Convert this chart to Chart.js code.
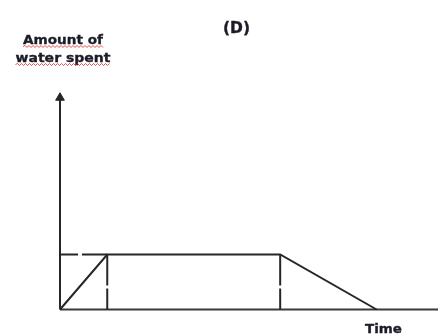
<!DOCTYPE html>
<html>
<head>
<meta charset="utf-8">
<script src="https://cdn.jsdelivr.net/npm/chart.js@4"></script>
<style>
html,body{margin:0;padding:0;background:#fff;}
canvas{display:block;}
</style>
</head>
<body>
<canvas id="c" width="438" height="336"></canvas>
<script>
// ---- data ----
const timePoints   = [0, 1, 4.66, 6.7];   // time values of the graph's corners
const waterValues  = [0, 1, 1, 0];        // amount of water spent at those times
const plateauLevel = 1;
const xMax = 8, yMax = 4, arrowTip = 3.85;
const titleText = "(D)";
const yLabelLines = ["Amount of", "water spent"];
const xLabelText = "Time";

const INK = '#262626';

const mainLine = timePoints.map((t, i) => ({x: t, y: waterValues[i]}));

const bgPlugin = {
  id: 'bg',
  beforeDraw(chart) {
    const ctx = chart.ctx;
    ctx.save();
    ctx.fillStyle = '#fff';
    ctx.fillRect(0, 0, chart.width, chart.height);
    ctx.restore();
  }
};

function squiggle(ctx, x0, x1, y) {
  ctx.save();
  ctx.strokeStyle = 'rgba(225,20,20,0.75)';
  ctx.lineWidth = 1;
  ctx.beginPath();
  let up = true;
  ctx.moveTo(x0, y);
  for (let x = x0 + 2; x <= x1; x += 2) {
    ctx.lineTo(x, up ? y - 1 : y + 1);
    up = !up;
  }
  ctx.stroke();
  ctx.restore();
}

// draw text centred at cx, stretched to a given width
function fitText(ctx, s, cx, base, width) {
  const w = ctx.measureText(s).width;
  const k = width / w;
  ctx.save();
  ctx.translate(cx, base);
  ctx.scale(k, 1);
  ctx.fillText(s, 0, 0);
  ctx.lineWidth = 0.35;
  ctx.strokeText(s, 0, 0);
  ctx.restore();
}

const textPlugin = {
  id: 'texts',
  afterDraw(chart) {
    const ctx = chart.ctx;
    ctx.save();
    ctx.fillStyle = '#1c1c28';
    ctx.strokeStyle = '#1c1c28';
    ctx.textAlign = 'center';
    ctx.textBaseline = 'alphabetic';
    ctx.font = 'bold 15px "DejaVu Sans"';
    fitText(ctx, titleText, 236.5, 33, 27);
    ctx.font = 'bold 13px "DejaVu Sans"';
    const ys = [44, 62];
    const widths = [80, 95];
    yLabelLines.forEach((s, i) => {
      fitText(ctx, s, 63, ys[i], widths[i]);
      squiggle(ctx, 63 - widths[i] / 2, 63 + widths[i] / 2, ys[i] + 2.5);
    });
    ctx.font = 'bold 13px "DejaVu Sans"';
    fitText(ctx, xLabelText, 383.5, 333, 37);
    ctx.restore();
  }
};

new Chart(document.getElementById('c'), {
  type: 'scatter',
  data: {
    datasets: [
      { // main graph
        data: mainLine, showLine: true, borderColor: INK, borderWidth: 2,
        pointRadius: 0, tension: 0, clip: false
      },
      { // dashed guide from y-axis to plateau
        data: [{x: 0, y: plateauLevel}, {x: timePoints[1], y: plateauLevel}],
        showLine: true, borderColor: INK, borderWidth: 2, pointRadius: 0,
        borderDash: [18, 4, 40, 0], clip: false
      },
      { // vertical guide at first corner
        data: [{x: timePoints[1], y: plateauLevel}, {x: timePoints[1], y: 0}],
        showLine: true, borderColor: INK, borderWidth: 2, pointRadius: 0,
        borderDash: [31, 3], clip: false
      },
      { // vertical guide at second corner
        data: [{x: timePoints[2], y: plateauLevel}, {x: timePoints[2], y: 0}],
        showLine: true, borderColor: INK, borderWidth: 2, pointRadius: 0,
        borderDash: [31, 3], clip: false
      },
      { // x axis
        data: [{x: 0, y: 0}, {x: xMax, y: 0}],
        showLine: true, borderColor: '#3a3a3a', borderWidth: 2, pointRadius: 0, clip: false
      },
      { // y axis with arrow head
        data: [{x: 0, y: 0}, {x: 0, y: arrowTip}],
        showLine: true, borderColor: INK, borderWidth: 2,
        pointRadius: [0, 5], pointStyle: 'triangle',
        pointBackgroundColor: INK, pointBorderColor: INK, pointBorderWidth: 1, clip: false
      }
    ]
  },
  options: {
    responsive: false,
    animation: false,
    events: [],
    layout: { autoPadding: false, padding: { left: 60, right: 0, top: 89.5, bottom: 26.5 } },
    plugins: { legend: { display: false }, tooltip: { enabled: false }, title: { display: false } },
    scales: {
      x: { type: 'linear', min: 0, max: xMax, display: false },
      y: { type: 'linear', min: 0, max: yMax, display: false }
    }
  },
  plugins: [bgPlugin, textPlugin]
});
</script>
</body>
</html>
